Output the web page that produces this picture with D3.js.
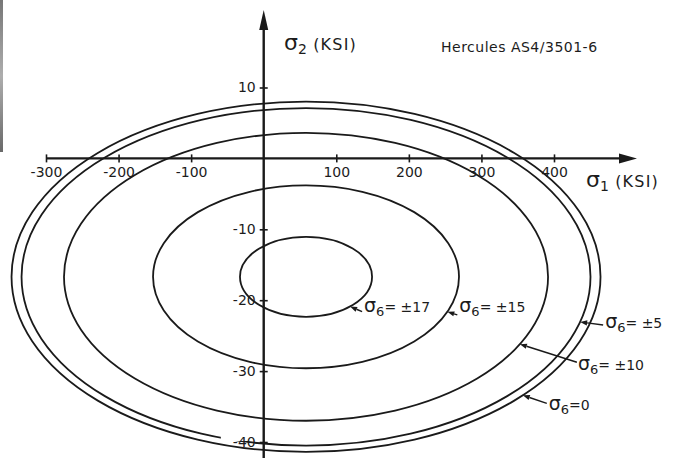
<!DOCTYPE html>
<html>
<head>
<meta charset="utf-8">
<script src="https://cdn.jsdelivr.net/npm/d3@7"></script>
<style>
  html, body { margin: 0; padding: 0; background: #fff; }
  svg { display: block; }
  text { font-family: "DejaVu Sans", sans-serif; fill: #1c1c1c; }
</style>
</head>
<body>
<svg id="chart" width="683" height="458"></svg>
<script>
// Tsai-Wu failure envelopes in the sigma1-sigma2 plane for several shear stress levels
const shearLevels = ["0", "±5", "±10", "±15", "±17"];
const centerS1 = 58.3;      // ksi
const centerS2 = -16.7;     // ksi
const halfWidthS1 = [405.8, 392, 333.5, 210.8, 91];   // ksi
const halfHeightS2 = [24.7, 23.8, 20.3, 12.9, 5.64];  // ksi
const calloutS1 = [357, 436, 353, 253, 119];          // sigma1 where each callout arrow meets its curve

const xTicks = [-300, -200, -100, 100, 200, 300, 400];
const yTicks = [10, -10, -20, -30, -40];
const title = "Hercules AS4/3501-6";

// callout placement, pixel offsets from the arrow tip
const calloutLayout = [
  { tail: [24, 8],  text: [26, 15] },
  { tail: [23, 3],  text: [25, 6] },
  { tail: [57, 18], text: [58, 26] },
  { tail: [10, 3],  text: [12, 0] },
  { tail: [12, 5],  text: [14, 5] }
];

const ink = "#1a1a1a";
const svg = d3.select("#chart");

const x = d3.scaleLinear().domain([-300, 400]).range([46, 554]);
const y = d3.scaleLinear().domain([-40, 10]).range([442, 87.5]);

// faint scanner edge on the left margin
const edge = svg.append("defs").append("linearGradient").attr("id", "edge")
  .attr("x1", 0).attr("x2", 0).attr("y1", 0).attr("y2", 1);
edge.append("stop").attr("offset", 0).attr("stop-color", "#555");
edge.append("stop").attr("offset", 0.5).attr("stop-color", "#999");
edge.append("stop").attr("offset", 1).attr("stop-color", "#444");
svg.append("rect").attr("x", 0).attr("y", 0).attr("width", 3).attr("height", 152)
  .attr("fill", "url(#edge)").attr("opacity", 0.8);

const gFive = svg.append("g");
const gMask = svg.append("g");
const gCurves = svg.append("g");
const gAxes = svg.append("g");
const gNotes = svg.append("g");

function drawEnvelope(g, i) {
  g.append("ellipse")
    .attr("cx", x(centerS1))
    .attr("cy", y(centerS2))
    .attr("rx", x(centerS1 + halfWidthS1[i]) - x(centerS1))
    .attr("ry", y(centerS2) - y(centerS2 + halfHeightS2[i]))
    .attr("fill", "none")
    .attr("stroke", ink)
    .attr("stroke-width", 1.8);
}
drawEnvelope(gFive, 1);
[0, 2, 3, 4].forEach(i => drawEnvelope(gCurves, i));

// ---- axes ----
const x0 = x(0), y0 = y(0);
const xTip = 637, yTip = 10;
const minus = d => d < 0 ? "-" + Math.abs(d) : String(d);

const xAxis = d3.axisBottom(x).tickValues(xTicks).tickSize(4).tickPadding(6).tickFormat(minus);
const gx = gAxes.append("g").attr("transform", `translate(0,${y0})`).call(xAxis);
gx.select(".domain").remove();
gx.selectAll(".tick line").attr("y1", -4).attr("y2", 4).attr("stroke", ink).attr("stroke-width", 1.6);
gx.selectAll(".tick text").attr("font-size", 14).attr("fill", ink)
  .attr("font-family", "DejaVu Sans").attr("y", 9);

const yAxis = d3.axisLeft(y).tickValues(yTicks).tickSize(4).tickPadding(4).tickFormat(minus);
const gy = gAxes.append("g").attr("transform", `translate(${x0},0)`).call(yAxis);
gy.select(".domain").remove();
gy.selectAll(".tick line").attr("x1", -4).attr("x2", 4).attr("stroke", ink).attr("stroke-width", 1.6);
gy.selectAll(".tick text").attr("font-size", 14).attr("fill", ink)
  .attr("font-family", "DejaVu Sans").attr("x", -8);

// axis lines with arrowheads
gAxes.append("line").attr("x1", x(-300)).attr("x2", xTip - 10).attr("y1", y0).attr("y2", y0)
  .attr("stroke", ink).attr("stroke-width", 2.4);
gAxes.append("path").attr("d", `M${xTip},${y0} L${xTip - 18},${y0 - 5} L${xTip - 18},${y0 + 5} Z`).attr("fill", ink);
gAxes.append("line").attr("x1", x0).attr("x2", x0).attr("y1", yTip + 10).attr("y2", 458)
  .attr("stroke", ink).attr("stroke-width", 2.4);
gAxes.append("path").attr("d", `M${x0},${yTip} L${x0 - 4.5},${yTip + 20} L${x0 + 4.5},${yTip + 20} Z`).attr("fill", ink);

// the ±5 envelope is broken where the -40 label sits
const lab40 = gy.selectAll(".tick text").filter(d => d === -40).node();
const bb = lab40.getBBox();
const t40 = gy.selectAll(".tick").filter(d => d === -40).attr("transform");
const ty = +/translate\([^,]+,([^)]+)\)/.exec(t40)[1];
gMask.append("rect")
  .attr("x", x0 + bb.x - 12).attr("y", ty + bb.y - 5)
  .attr("width", -bb.x + 10).attr("height", bb.height * 0.75)
  .attr("fill", "#fff");

// ---- axis titles ----
function sigmaLabel(g, px, py, sub, rest, sizes) {
  const t = g.append("text").attr("x", px).attr("y", py);
  t.append("tspan").attr("font-size", sizes[0]).text("σ");
  t.append("tspan").attr("font-size", sizes[1]).attr("dy", sizes[3]).text(sub);
  t.append("tspan").attr("font-size", sizes[2]).attr("dy", -sizes[3]).attr("letter-spacing", sizes[4]).text(rest);
  return t;
}
sigmaLabel(gNotes, 284, 50, "2", " (KSI)", [22, 14, 16, 4, 1.2]);
sigmaLabel(gNotes, 586, 187, "1", " (KSI)", [22, 14, 16, 4, 1.2]);

gNotes.append("text").attr("x", 441).attr("y", 52)
  .attr("font-size", 14).attr("letter-spacing", 0.5).text(title);

// ---- callouts ----
shearLevels.forEach((lvl, i) => {
  const dx = (calloutS1[i] - centerS1) / halfWidthS1[i];
  const s2 = centerS2 - halfHeightS2[i] * Math.sqrt(1 - dx * dx);
  const tx = x(calloutS1[i]), tyy = y(s2);
  const L = calloutLayout[i];
  const ax = tx + L.tail[0], ay = tyy + L.tail[1];
  const ang = Math.atan2(tyy - ay, tx - ax);
  const hl = 7, hw = 2.6;
  const bx = tx - hl * Math.cos(ang), by = tyy - hl * Math.sin(ang);
  gNotes.append("line").attr("x1", ax).attr("y1", ay).attr("x2", bx).attr("y2", by)
    .attr("stroke", ink).attr("stroke-width", 1.5);
  gNotes.append("path")
    .attr("d", `M${tx},${tyy} L${bx + hw * Math.sin(ang)},${by - hw * Math.cos(ang)} L${bx - hw * Math.sin(ang)},${by + hw * Math.cos(ang)} Z`)
    .attr("fill", ink);
  const label = lvl === "0" ? "=0" : "= " + lvl;
  sigmaLabel(gNotes, tx + L.text[0], tyy + L.text[1], "6", label, [19, 13, 14, 4, 0]);
});
</script>
</body>
</html>
